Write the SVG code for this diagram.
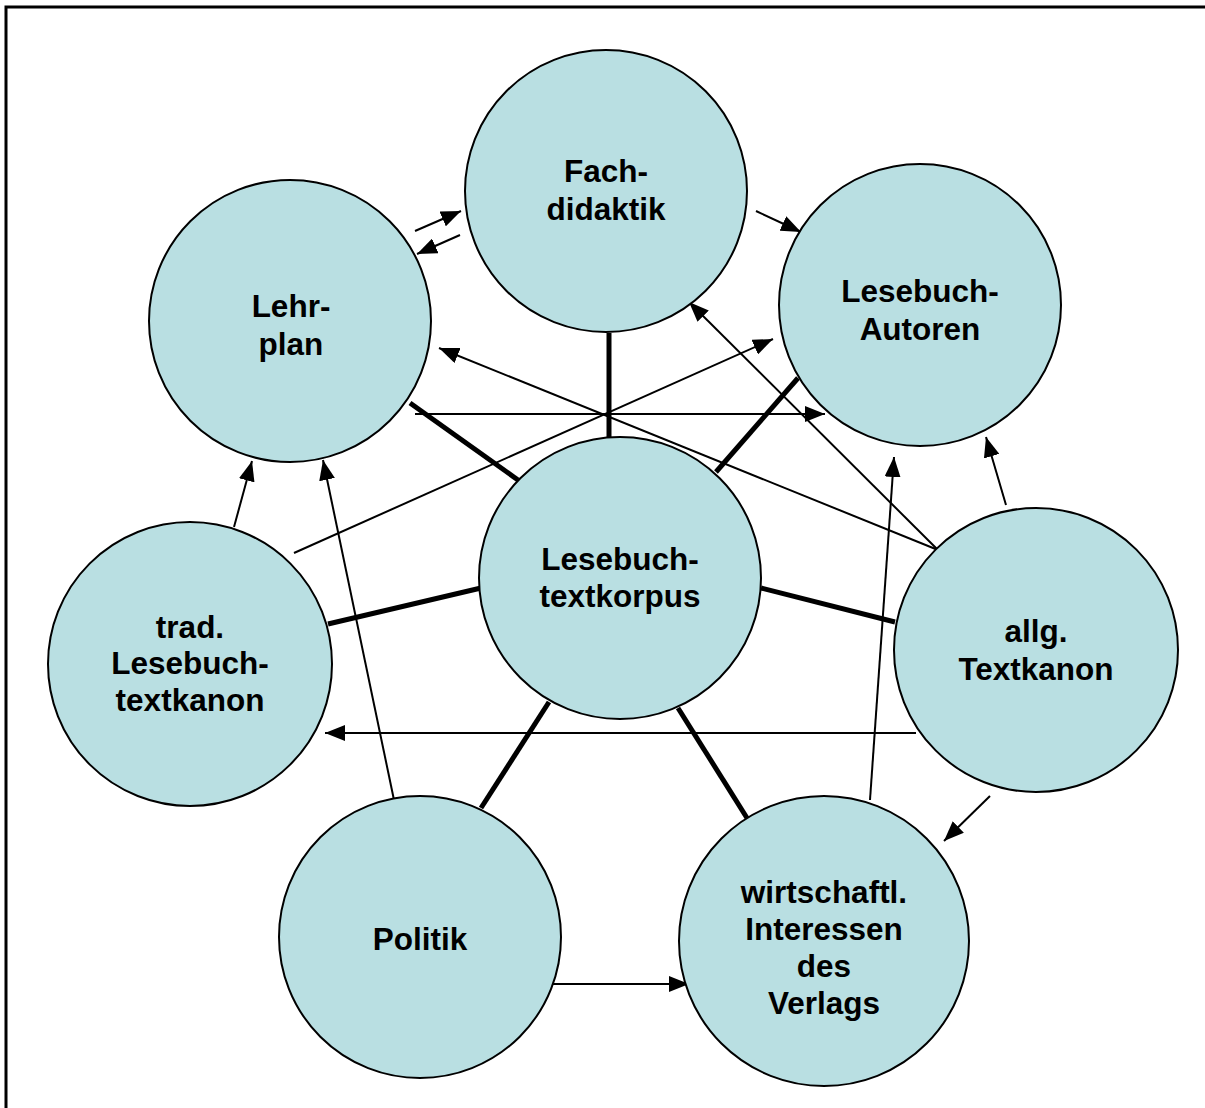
<svg xmlns="http://www.w3.org/2000/svg" width="1205" height="1108" viewBox="0 0 1205 1108">
<defs>
<marker id="ah" markerUnits="userSpaceOnUse" markerWidth="22" markerHeight="16" refX="20" refY="8" orient="auto">
<path d="M0,0 L20,8 L0,16 Z" fill="#000"/>
</marker>
<style>
.n{fill:#b9dfe2;stroke:#000;stroke-width:2}
.t{font-family:"Liberation Sans",Arial,sans-serif;font-weight:bold;font-size:31.5px;text-anchor:middle;fill:#000}
.k{stroke:#000;stroke-width:5;fill:none}
.a{stroke:#000;stroke-width:2;fill:none;marker-end:url(#ah)}
</style>
</defs>
<rect width="1205" height="1108" fill="#fff"/>
<path d="M6,1108 V7 H1205" fill="none" stroke="#000" stroke-width="3"/>
<g id="connectors">
<line class="k" x1="609" y1="333" x2="609" y2="437"/>
<line class="k" x1="410" y1="403" x2="518" y2="480"/>
<line class="k" x1="798" y1="378" x2="716" y2="472"/>
<line class="k" x1="328" y1="624" x2="481" y2="588"/>
<line class="k" x1="895" y1="622" x2="761" y2="588"/>
<line class="k" x1="481" y1="808" x2="549" y2="702"/>
<line class="k" x1="747" y1="818" x2="678" y2="708"/>
<line class="a" x1="415" y1="231" x2="461" y2="211"/>
<line class="a" x1="460" y1="235" x2="417" y2="254"/>
<line class="a" x1="756" y1="211" x2="801" y2="232"/>
<line class="a" x1="938" y1="550" x2="439" y2="348"/>
<line class="a" x1="294" y1="553" x2="773" y2="339"/>
<line class="a" x1="415" y1="414" x2="825" y2="414"/>
<line class="a" x1="938" y1="550" x2="689" y2="302"/>
<line class="a" x1="1006" y1="505" x2="986" y2="437"/>
<line class="a" x1="870" y1="800" x2="894" y2="457"/>
<line class="a" x1="916" y1="733" x2="325" y2="733"/>
<line class="a" x1="990" y1="796" x2="944" y2="841"/>
<line class="a" x1="234" y1="527" x2="252" y2="461"/>
<line class="a" x1="394" y1="800" x2="323" y2="460"/>
<line class="a" x1="553" y1="984" x2="689" y2="984"/>
</g>
<g id="fachdidaktik"><circle class="n" cx="606" cy="191" r="141"/><text class="t" x="606" y="182">Fach-</text><text class="t" x="606" y="220">didaktik</text></g>
<g id="lehrplan"><circle class="n" cx="290" cy="321" r="141"/><text class="t" x="291" y="317">Lehr-</text><text class="t" x="291" y="355">plan</text></g>
<g id="autoren"><circle class="n" cx="920" cy="305" r="141"/><text class="t" x="920" y="302">Lesebuch-</text><text class="t" x="920" y="340">Autoren</text></g>
<g id="korpus"><circle class="n" cx="620" cy="578" r="141"/><text class="t" x="620" y="570">Lesebuch-</text><text class="t" x="620" y="607">textkorpus</text></g>
<g id="tradkanon"><circle class="n" cx="190" cy="664" r="142"/><text class="t" x="190" y="638">trad.</text><text class="t" x="190" y="674">Lesebuch-</text><text class="t" x="190" y="711">textkanon</text></g>
<g id="allgkanon"><circle class="n" cx="1036" cy="650" r="142"/><text class="t" x="1036" y="642">allg.</text><text class="t" x="1036" y="680">Textkanon</text></g>
<g id="politik"><circle class="n" cx="420" cy="937" r="141"/><text class="t" x="420" y="950">Politik</text></g>
<g id="verlag"><ellipse class="n" cx="824" cy="941" rx="145" ry="145"/><text class="t" x="824" y="903">wirtschaftl.</text><text class="t" x="824" y="940">Interessen</text><text class="t" x="824" y="977">des</text><text class="t" x="824" y="1014">Verlags</text></g>
</svg>
